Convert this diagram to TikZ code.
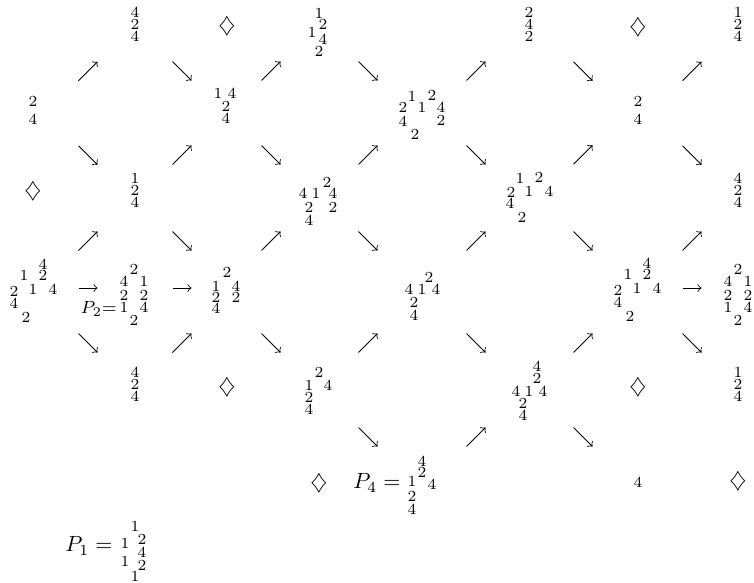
\documentclass[tikz,border=0pt]{standalone}
\usepackage{amsmath}
\usetikzlibrary{calc}
\setlength{\unitlength}{0.4545pt}
% one composition factor of a module, offset from the module centre
\newcommand{\dg}[3]{\put(#1,#2){\makebox(0,0){#3}}}
% uniserial module of length three
\newcommand{\stk}[3]{\dg{0}{12}{#1}\dg{0}{0}{#2}\dg{0}{-12}{#3}}
\newcommand{\modl}[1]{\begin{picture}(0,0)#1\end{picture}}
% the two shapes that occur twice
\newcommand{\shpA}{\dg{10}{26}{4}\dg{-9}{15}{1}\dg{10}{15}{2}\dg{-19}{-1}{2}\dg{0}{1}{1}\dg{20}{1}{4}\dg{-19}{-13}{4}\dg{-7}{-27}{2}}
\newcommand{\shpB}{\dg{0}{26}{2}\dg{-10}{13.3}{4}\dg{10}{13.3}{1}\dg{-10}{0}{2}\dg{10}{0}{2}\dg{-10}{-12.3}{1}\dg{10}{-12.3}{4}\dg{0}{-25}{2}}

\begin{document}
\begin{tikzpicture}[x=0.4545pt, y=-0.4545pt, >=to,
	modl/.style={inner sep=0pt, font=\scriptsize},
	dia/.style={inner sep=0pt},
	eqtext/.style={inner sep=0pt, anchor=east},
	% kurze Pfeile zwischen zwei Moduln, #1 = kleine Verschiebung
	upar/.style={to path={($(\tikztostart)!0.5!(\tikztotarget)+(#1)+(-9.5,9.5)$) -- ($(\tikztostart)!0.5!(\tikztotarget)+(#1)+(9.5,-9.5)$)}},
	dnar/.style={to path={($(\tikztostart)!0.5!(\tikztotarget)+(#1)+(-9.5,-9.5)$) -- ($(\tikztostart)!0.5!(\tikztotarget)+(#1)+(9.5,9.5)$)}},
	rtar/.style={to path={($(\tikztostart)!0.5!(\tikztotarget)+(#1)+(-9.5,0)$) -- ($(\tikztostart)!0.5!(\tikztotarget)+(#1)+(9.5,0)$)}}]
	\useasboundingbox (0,0) rectangle (754,582);
	% Zeile 0
	\node[modl] (r0c2) at (135,24) {\modl{\stk424}};
	\node[dia] (r0c4) at (227,26) {$\diamondsuit$};
	\node[modl] (r0c6) at (319,31) {\modl{\dg{0}{18}{1}\dg{4}{7}{2}\dg{-7}{-1}{1}\dg{4}{-8}{4}\dg{0}{-20}{2}}};
	\node[modl] (r0c10) at (529,24) {\modl{\stk242}};
	\node[dia] (r0c12) at (638,27) {$\diamondsuit$};
	\node[modl] (r0c14) at (738,24) {\modl{\stk124}};
	% Zeile 2
	\node[modl] (r2c0) at (33,110.5) {\modl{\dg{0}{9}{2}\dg{0}{-9}{4}}};
	\node[modl] (r2c4) at (226,106) {\modl{\dg{-8}{13}{1}\dg{6}{13}{4}\dg{0}{0}{2}\dg{0}{-12}{4}}};
	\node[modl] (r2c8) at (422,115) {\modl{\dg{-10}{19}{1}\dg{10}{20}{2}\dg{-19}{8}{2}\dg{0}{8}{1}\dg{19}{8}{4}\dg{-19}{-6}{4}\dg{19}{-5}{2}\dg{-7}{-19}{2}}};
	\node[modl] (r2c12) at (638,110.5) {\modl{\dg{0}{9}{2}\dg{0}{-9}{4}}};
	% Zeile 4
	\node[dia] (r4c0) at (33,191) {$\diamondsuit$};
	\node[modl] (r4c2) at (135,190) {\modl{\stk124}};
	\node[modl] (r4c6) at (318,200) {\modl{\dg{9}{18}{2}\dg{-15}{7}{4}\dg{-2}{7}{1}\dg{15}{7}{4}\dg{-9}{-7}{2}\dg{15}{-7}{2}\dg{-9}{-20}{4}}};
	\node[modl] (r4c10) at (530,197) {\modl{\dg{-10}{19}{1}\dg{9}{20}{2}\dg{-19}{5}{2}\dg{-1}{6}{1}\dg{19}{6}{4}\dg{-20}{-6}{4}\dg{-8}{-20}{2}}};
	\node[modl] (r4c14) at (738,190) {\modl{\stk424}};
	% Zeile 6
	\node[modl] (r6c0) at (33,290) {\modl{\shpA}};
	\node[modl] (r6c2) at (134,295) {\modl{\shpB}};
	\node[eqtext] (p2eq) at (117,309) {\footnotesize$P_2{=}$};
	\node[modl] (r6c4) at (226,290) {\modl{\dg{1}{17.5}{2}\dg{-10}{3.7}{1}\dg{10}{3.7}{4}\dg{-10}{-7}{2}\dg{10}{-7}{2}\dg{-10}{-18.3}{4}}};
	\node[modl] (r6c8) at (422,296) {\modl{\dg{7}{18.7}{2}\dg{-13}{7}{4}\dg{0}{7}{1}\dg{14}{7}{4}\dg{-8}{-6.3}{2}\dg{-8}{-19}{4}}};
	\node[modl] (r6c12) at (637,289) {\modl{\shpA}};
	\node[modl] (r6c14) at (738,295) {\modl{\shpB}};
	% Zeile 8
	\node[modl] (r8c2) at (135,384) {\modl{\stk424}};
	\node[dia] (r8c4) at (227,387) {$\diamondsuit$};
	\node[modl] (r8c6) at (319,391) {\modl{\dg{0}{18.7}{2}\dg{-10}{5.3}{1}\dg{9}{5.3}{4}\dg{-10}{-6.7}{2}\dg{-10}{-18.3}{4}}};
	\node[modl] (r8c10) at (530,391) {\modl{\dg{7}{24.3}{4}\dg{7}{12.7}{2}\dg{-14}{0}{4}\dg{-1}{0}{1}\dg{13}{0}{4}\dg{-7}{-12.3}{2}\dg{-7}{-24.7}{4}}};
	\node[dia] (r8c12) at (638,387) {$\diamondsuit$};
	\node[modl] (r8c14) at (738,384) {\modl{\stk124}};
	% Zeile 10
	\node[dia] (r10c6) at (319,483) {$\diamondsuit$};
	\node[eqtext] (p4eq) at (401,483) {$P_4 =$};
	\node[modl] (r10c8) at (422,485) {\modl{\dg{0}{24}{4}\dg{0}{12.7}{2}\dg{-10}{3.3}{1}\dg{10}{0.7}{4}\dg{-10}{-11.7}{2}\dg{-10}{-24}{4}}};
	\node[modl] (r10c12) at (638,482) {\modl{\dg{0}{0}{4}}};
	\node[dia] (r10c14) at (738,481) {$\diamondsuit$};
	% P_1 unten
	\node[eqtext] (p1eq) at (113,546) {$P_1 =$};
	\node[modl] (p1) at (134,551) {\modl{\dg{1}{25}{1}\dg{-9}{7.7}{1}\dg{8}{11.7}{2}\dg{8}{-1.7}{4}\dg{-9}{-10.7}{1}\dg{8}{-14}{2}\dg{1}{-25.7}{1}}};
	% Pfeile
	\foreach \a/\s/\b/\o in {r2c0/upar/r0c2/{4,4}, r0c2/dnar/r2c4/{1.5,6}, r2c4/upar/r0c6/{-1.5,2.5}, r0c6/dnar/r2c8/{-2.5,-2},
		r2c8/upar/r0c10/{0.5,1.5}, r0c10/dnar/r2c12/{-0.5,4}, r2c12/upar/r0c14/{4,4},
		r2c0/dnar/r4c2/{4,5}, r4c2/upar/r2c4/{1.5,7}, r2c4/dnar/r4c6/{-1,2}, r4c6/upar/r2c8/{-2,-2.5},
		r2c8/dnar/r4c10/{0,-1}, r4c10/upar/r2c12/{-1,1}, r2c12/dnar/r4c14/{4,5},
		r6c0/upar/r4c2/{4,1}, r4c2/dnar/r6c4/{1.5,1}, r6c4/upar/r4c6/{-1,-4}, r4c6/dnar/r6c8/{-2,-7},
		r6c8/upar/r4c10/{0,-5.5}, r4c10/dnar/r6c12/{-0.5,-2}, r6c12/upar/r4c14/{4.5,1.5},
		r6c0/rtar/r6c2/{4.5,-4.5}, r6c2/rtar/r6c4/{2,-4.5}, r6c12/rtar/r6c14/{4.5,-4},
		r6c0/dnar/r8c2/{4,6}, r8c2/upar/r6c4/{1.5,6}, r6c4/dnar/r8c6/{-1.5,2.5}, r8c6/upar/r6c8/{-2.5,-0.5},
		r6c8/dnar/r8c10/{0,-0.5}, r8c10/upar/r6c12/{-0.5,3}, r6c12/dnar/r8c14/{4.5,6.5},
		r8c6/dnar/r10c8/{-2.5,-1}, r10c8/upar/r8c10/{0,-1}, r8c10/dnar/r10c12/{-1,0.5}}
		\draw[->] (\a) to[\s=\o] (\b);
\end{tikzpicture}
\end{document}
